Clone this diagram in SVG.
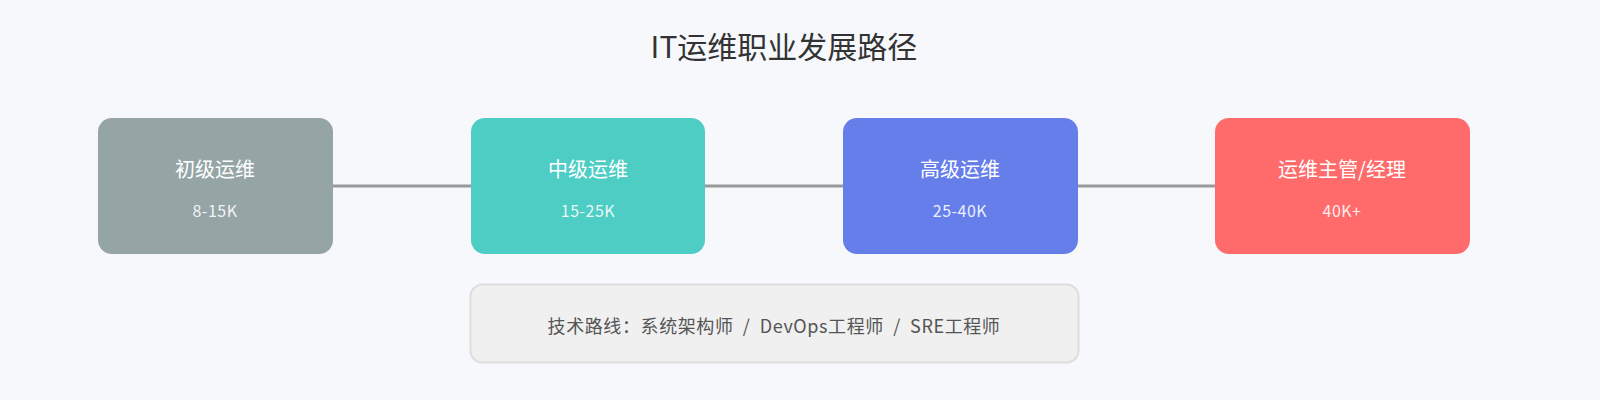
<svg xmlns="http://www.w3.org/2000/svg" width="1600" height="400" viewBox="0 0 1600 400">
<style>
text{font-family:"Noto Sans CJK SC","Noto Sans",sans-serif;text-anchor:middle}
.t{fill:#fff;font-size:20px}
.s{fill:#fff;fill-opacity:.9;font-size:16px;letter-spacing:0.5px}
.c{stroke:#999;stroke-width:3}
</style>
<rect width="1600" height="400" fill="#f6f8fb"/>
<text x="784" y="58" font-size="30" fill="#333">IT运维职业发展路径</text>
<g id="connectors">
<line class="c" x1="333" y1="186" x2="471" y2="186"/>
<line class="c" x1="705" y1="186" x2="843" y2="186"/>
<line class="c" x1="1078" y1="186" x2="1215" y2="186"/>
</g>
<g id="n1"><rect x="98" y="118" width="235" height="136" rx="14" fill="#95a5a6"/><text class="t" x="215" y="177">初级运维</text><text class="s" x="215" y="217">8-15K</text></g>
<g id="n2"><rect x="471" y="118" width="234" height="136" rx="14" fill="#4ecdc4"/><text class="t" x="588" y="177">中级运维</text><text class="s" x="588" y="217">15-25K</text></g>
<g id="n3"><rect x="843" y="118" width="235" height="136" rx="14" fill="#667eea"/><text class="t" x="960" y="177">高级运维</text><text class="s" x="960" y="217">25-40K</text></g>
<g id="n4"><rect x="1215" y="118" width="255" height="136" rx="14" fill="#ff6b6b"/><text class="t" x="1342" y="177">运维主管/经理</text><text class="s" x="1342" y="217">40K+</text></g>
<g id="n5"><rect x="470.5" y="284.5" width="608" height="78" rx="12" fill="#f0f0f0" stroke="#dddddd" stroke-width="2"/><text x="774" y="333" font-size="18" fill="#555" xml:space="preserve" letter-spacing="0.6">技术路线：系统架构师  /  DevOps工程师  /  SRE工程师</text></g>
</svg>
